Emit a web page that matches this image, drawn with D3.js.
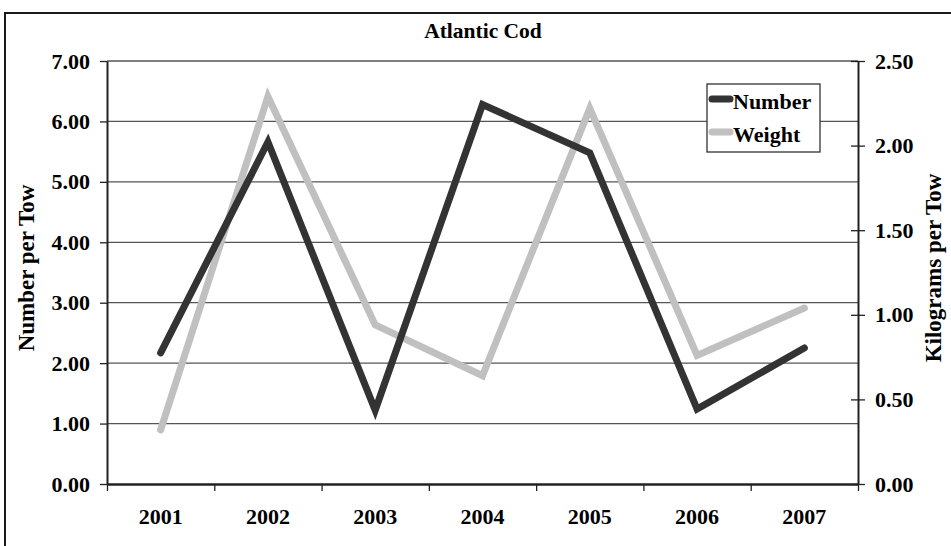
<!DOCTYPE html>
<html>
<head>
<meta charset="utf-8">
<script src="https://cdn.jsdelivr.net/npm/d3@7/dist/d3.min.js"></script>
<style>
  html, body { margin: 0; padding: 0; background: #fff; }
  svg { display: block; }
  svg text { font-family: "Liberation Serif", "Times New Roman", Times, serif !important; font-weight: bold !important; fill: #000; }
</style>
</head>
<body>
<svg id="chart" width="951" height="546"></svg>
<script>
const years = ["2001", "2002", "2003", "2004", "2005", "2006", "2007"];
const numberPerTow = [2.17, 5.66, 1.22, 6.28, 5.48, 1.24, 2.25];
const kgPerTow = [0.32, 2.29, 0.94, 0.64, 2.22, 0.76, 1.04];
const leftTicks = [0, 1, 2, 3, 4, 5, 6, 7];
const rightTicks = [0, 0.5, 1, 1.5, 2, 2.5];
const seriesNames = ["Number", "Weight"];

const FONT = '"Liberation Serif", "Times New Roman", Times, serif';
const svg = d3.select("#chart");
const W = 951, H = 546;
const plot = { left: 107, right: 858, top: 61, bottom: 484 };

// outer chart border (extends beyond bottom/right of the picture)
svg.append("rect")
  .attr("x", 5).attr("y", 13).attr("width", W + 20).attr("height", H + 20)
  .attr("fill", "none").attr("stroke", "#1a1a1a").attr("stroke-width", 2);

const x = d3.scaleBand().domain(years).range([plot.left, plot.right]).paddingInner(0).paddingOuter(0);
const xEdge = d3.scaleLinear().domain([0, years.length]).range([plot.left, plot.right]);
const yL = d3.scaleLinear().domain([0, 7]).range([plot.bottom, plot.top]);
const yR = d3.scaleLinear().domain([0, 2.5]).range([plot.bottom, plot.top]);
const cx = d => x(d) + x.bandwidth() / 2;

function styleText(sel, size) {
  sel.style("font-family", FONT).style("font-weight", "bold").style("font-size", size + "px").attr("fill", "#000");
}

// gridlines
svg.append("g").selectAll("line")
  .data(leftTicks.filter(d => d > 0))
  .join("line")
  .attr("x1", plot.left).attr("x2", plot.right)
  .attr("y1", d => yL(d)).attr("y2", d => yL(d))
  .attr("stroke", "#555").attr("stroke-width", 1.3);

const fmt = d3.format(".2f");

// left axis
const gL = svg.append("g").attr("transform", `translate(${plot.left},0)`)
  .call(d3.axisLeft(yL).tickValues(leftTicks).tickFormat(fmt).tickSizeInner(7).tickSizeOuter(0).tickPadding(10));
gL.attr("font-family", null).attr("font-size", null);
gL.select(".domain").attr("stroke", "#222").attr("stroke-width", 2);
gL.selectAll(".tick line").attr("stroke", "#222").attr("stroke-width", 1.3);
styleText(gL.selectAll(".tick text"), 22);

// right axis
const gR = svg.append("g").attr("transform", `translate(${plot.right},0)`)
  .call(d3.axisRight(yR).tickValues(rightTicks).tickFormat(fmt).tickSizeInner(7).tickSizeOuter(0).tickPadding(10));
gR.attr("font-family", null).attr("font-size", null);
gR.select(".domain").attr("stroke", "#222").attr("stroke-width", 2);
gR.selectAll(".tick line").attr("x1", -7).attr("stroke", "#222").attr("stroke-width", 1.3);
styleText(gR.selectAll(".tick text"), 22);

// bottom axis: boundary ticks
const gB = svg.append("g").attr("transform", `translate(0,${plot.bottom})`)
  .call(d3.axisBottom(xEdge).tickValues(d3.range(years.length + 1)).tickFormat("").tickSizeInner(7).tickSizeOuter(0));
gB.select(".domain").attr("stroke", "#222").attr("stroke-width", 2.4);
gB.selectAll(".tick line").attr("stroke", "#222").attr("stroke-width", 1.3);

// bottom axis: category labels
const gBL = svg.append("g").attr("transform", `translate(0,${plot.bottom})`)
  .call(d3.axisBottom(x).tickSize(0).tickPadding(24));
gBL.attr("font-family", null).attr("font-size", null);
gBL.select(".domain").remove();
styleText(gBL.selectAll(".tick text"), 22);

// lines
const lineL = d3.line().x((d, i) => cx(years[i])).y(d => yL(d));
const lineR = d3.line().x((d, i) => cx(years[i])).y(d => yR(d));

svg.append("path").datum(kgPerTow)
  .attr("d", lineR).attr("fill", "none")
  .attr("stroke", "#c0c0c0").attr("stroke-width", 7)
  .attr("stroke-linecap", "round").attr("stroke-linejoin", "miter");

svg.append("path").datum(numberPerTow)
  .attr("d", lineL).attr("fill", "none")
  .attr("stroke", "#333333").attr("stroke-width", 7)
  .attr("stroke-linecap", "round").attr("stroke-linejoin", "miter");

// title
styleText(svg.append("text").attr("x", 483).attr("y", 38).attr("text-anchor", "middle").text("Atlantic Cod"), 21.5);

// axis titles
styleText(svg.append("text").attr("transform", "translate(34,268) rotate(-90)")
  .attr("text-anchor", "middle").text("Number per Tow"), 23);
styleText(svg.append("text").attr("transform", "translate(941,268) rotate(-90)")
  .attr("text-anchor", "middle").text("Kilograms per Tow"), 23);

// legend
const leg = svg.append("g");
leg.append("rect").attr("x", 707).attr("y", 84).attr("width", 113).attr("height", 68)
  .attr("fill", "#fff").attr("stroke", "#333").attr("stroke-width", 1.3);
const legColors = ["#333333", "#c0c0c0"];
const legY = [99, 132];
seriesNames.forEach((name, i) => {
  leg.append("line").attr("x1", 712).attr("x2", 730).attr("y1", legY[i]).attr("y2", legY[i])
    .attr("stroke", legColors[i]).attr("stroke-width", 7).attr("stroke-linecap", "round");
  styleText(leg.append("text").attr("x", 733).attr("y", legY[i] + 10).text(name), 22);
});
</script>
</body>
</html>
